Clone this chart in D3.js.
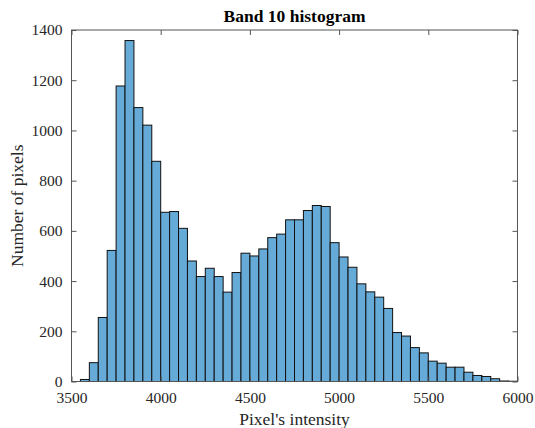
<!DOCTYPE html>
<html><head><meta charset="utf-8">
<script src="https://cdn.jsdelivr.net/npm/d3@7"></script>
<style>body{margin:0;background:#fff}svg text{font-family:"Liberation Serif","Times New Roman",serif}</style>
</head><body><svg id="c" width="535" height="428"></svg>
<script>
const binStarts = [3550,3600,3650,3700,3750,3800,3850,3900,3950,4000,4050,4100,4150,4200,4250,4300,4350,4400,4450,4500,4550,4600,4650,4700,4750,4800,4850,4900,4950,5000,5050,5100,5150,5200,5250,5300,5350,5400,5450,5500,5550,5600,5650,5700,5750,5800,5850,5900,5950];
const counts = [8,75,255,522,1177,1358,1091,1021,877,674,677,610,480,418,451,418,356,434,511,500,528,573,587,644,644,681,701,697,553,496,455,389,357,336,291,195,181,135,114,81,73,57,57,37,24,20,11,2,1];
const binWidth = 50;
const xTicks = [3500,4000,4500,5000,5500,6000];
const yTicks = [0,200,400,600,800,1000,1200,1400];

const svg = d3.select("#c");
const L = 71.5, R = 517.5, T = 30, B = 381.5;
const x = d3.scaleLinear().domain([3500,6000]).range([L,R]);
const y = d3.scaleLinear().domain([0,1400]).range([B,T]);

svg.append("g").selectAll("rect").data(binStarts).join("rect")
  .attr("x", (d)=>x(d))
  .attr("width", (d)=>x(d+binWidth)-x(d))
  .attr("y", (d,i)=>y(counts[i]))
  .attr("height", (d,i)=>y(0)-y(counts[i]))
  .attr("fill", "#66aad7")
  .attr("stroke", "#111")
  .attr("stroke-width", 1);

const axColor = "#555";
const tickLen = 5;
function styleAxis(g){
  g.select(".domain").remove();
  g.selectAll(".tick line").attr("stroke", axColor);
  g.selectAll(".tick text").attr("fill","#262626").style("font-size","15.5px");
}
svg.append("g").attr("transform",`translate(0,${B})`)
  .call(d3.axisBottom(x).tickValues(xTicks).tickSizeInner(-tickLen).tickSizeOuter(0).tickPadding(10).tickFormat(d3.format("d")))
  .call(styleAxis);
svg.append("g").attr("transform",`translate(0,${T})`)
  .call(d3.axisTop(x).tickValues(xTicks).tickSizeInner(-tickLen).tickSizeOuter(0).tickFormat(""))
  .call(styleAxis);
svg.append("g").attr("transform",`translate(${L},0)`)
  .call(d3.axisLeft(y).tickValues(yTicks).tickSizeInner(-tickLen).tickSizeOuter(0).tickPadding(9).tickFormat(d3.format("d")))
  .call(styleAxis);
svg.append("g").attr("transform",`translate(${R},0)`)
  .call(d3.axisRight(y).tickValues(yTicks).tickSizeInner(-tickLen).tickSizeOuter(0).tickFormat(""))
  .call(styleAxis);

svg.append("rect").attr("x",L).attr("y",T).attr("width",R-L).attr("height",B-T)
  .attr("fill","none").attr("stroke",axColor).attr("stroke-width",1);

svg.append("text").attr("x",(L+R)/2).attr("y",22).attr("text-anchor","middle")
  .style("font-size","17.5px").style("font-weight","bold").attr("fill","#000").text("Band 10 histogram");
svg.append("text").attr("x",(L+R)/2).attr("y",424.5).attr("text-anchor","middle")
  .style("font-size","17.5px").attr("fill","#262626").text("Pixel's intensity");
svg.append("text").attr("transform",`translate(23,${(T+B)/2}) rotate(-90)`).attr("text-anchor","middle")
  .style("font-size","17.5px").attr("fill","#262626").text("Number of pixels");
</script></body></html>
